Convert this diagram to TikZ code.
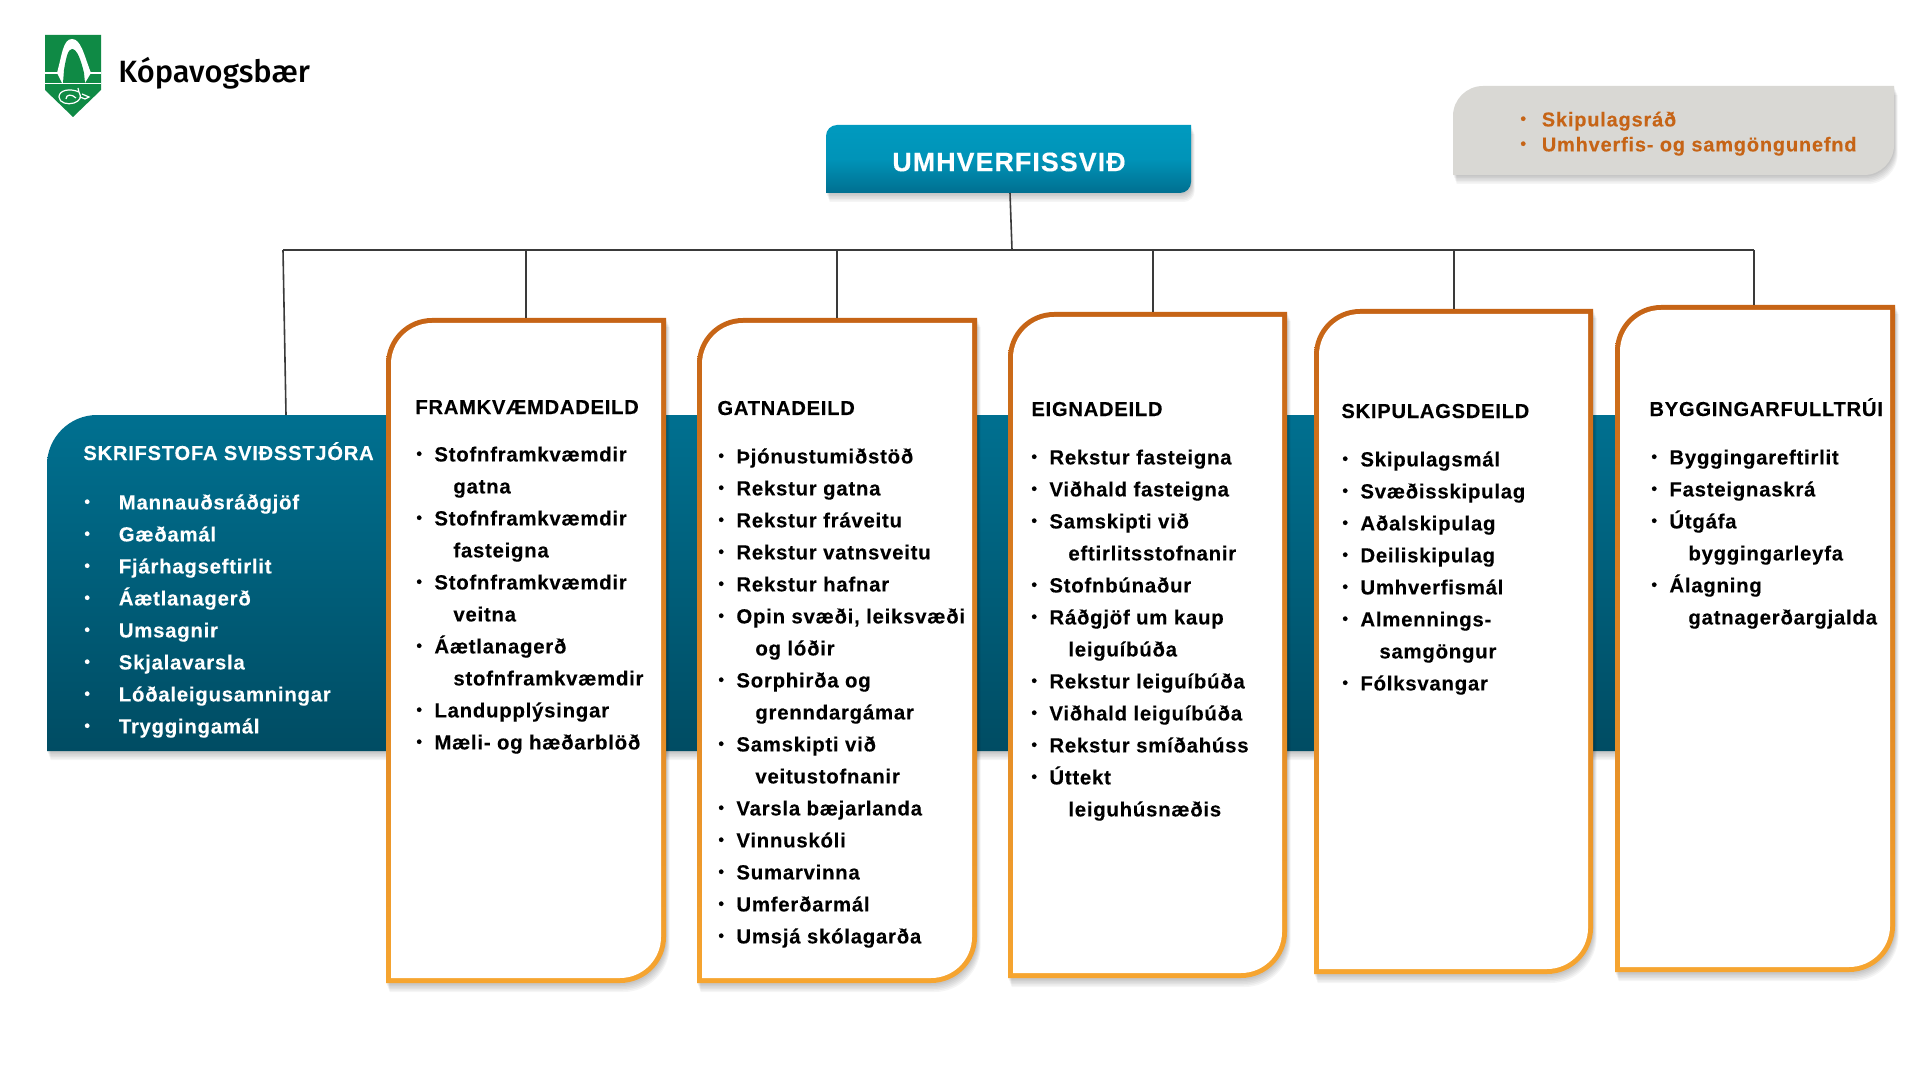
\documentclass[tikz,border=0pt]{standalone}
\usepackage{fontspec}
\usetikzlibrary{fit,calc}
\setmainfont{Liberation Sans}
\newfontfamily\fitem[LetterSpace=3.6,FakeBold=0.15]{Liberation Sans}
\newfontfamily\fgrey[LetterSpace=4,FakeBold=0.15]{Liberation Sans}
\newfontfamily\ftitle[LetterSpace=4,FakeBold=0.15]{Liberation Sans}
\newfontfamily\flogo{Fira Sans Medium}
\definecolor{cardtop}{HTML}{C66416}
\definecolor{cardbot}{HTML}{F6A530}
\definecolor{bandtop}{HTML}{007090}
\definecolor{bandbot}{HTML}{004C63}
\definecolor{titletop}{HTML}{009ABF}
\definecolor{titlebot}{HTML}{006F90}
\definecolor{greybox}{HTML}{D9D8D4}
\definecolor{linecol}{HTML}{3A3A3A}
\definecolor{logogreen}{HTML}{0F8A45}
\newlength\bw
\setlength\bw{9pt}
\newcommand\bulmark{\raisebox{1.2pt}{\fontsize{8}{8}\selectfont\textbullet}}
\newcommand\bl[1]{\rule{0pt}{8pt}\makebox[\bw][l]{\bulmark}#1}
\newcommand\cn[1]{\rule{0pt}{8pt}\hspace*{\bw}\hspace*{9.5pt}#1}
\newcommand\leafpath[5]{(#1,#4) -- (#1,{#2+#5}) .. controls (#1,{#2+.45*#5}) and ({#1+.45*#5},#2) .. ({#1+#5},#2) -- (#3,#2) -- (#3,{#4-#5}) .. controls (#3,{#4-.45*#5}) and ({#3-.45*#5},#4) .. ({#3-#5},#4) -- cycle}
\newcommand\leafshadow[5]{\foreach \i in {1,...,6}{\begin{scope}[shift={(0.6*\i,1.5*\i)}]\fill[black,opacity=.04] \leafpath{#1}{#2}{#3}{#4}{#5};\end{scope}}}
\newcommand\card[5]{%
  \leafshadow{#2}{#3}{#4}{#5}{46}
  \shade[top color=cardtop,bottom color=cardbot] \leafpath{#2}{#3}{#4}{#5}{46};
  \fill[white] \leafpath{\the\numexpr#2+5\relax}{\the\numexpr#3+5\relax}{\the\numexpr#4-5\relax}{\the\numexpr#5-5\relax}{41};
  \coordinate (#1-a) at (#2,#3);
  \coordinate (#1-b) at (#4,#5);
  \node[fit=(#1-a)(#1-b),inner sep=0pt,outer sep=0pt] (#1) {};
}
\tikzset{
  conn/.style={draw=linecol,line width=.8pt},
  head/.style={anchor=base west,inner sep=0pt,font=\fitem\bfseries\fontsize{10.1}{16}\selectfont},
  items/.style={anchor=north west,inner sep=0pt,align=left,font=\fitem\bfseries\fontsize{10.2}{16}\selectfont},
}
\begin{document}
\begin{tikzpicture}[x=.5pt,y=-.5pt]
\useasboundingbox (0,0) rectangle (1920,1080);
\fill[white] (0,0) rectangle (1920,1080);

% logo
\fill[logogreen] (45,35) -- (101,35) -- (101,90) -- (73,117) -- (45,90) -- cycle;
\fill[white] (57,73) .. controls (62,55) and (63,39) .. (72,39) .. controls (81,39) and (84,55) .. (91,73) -- (85,83) -- (62,83) -- cycle;
\fill[logogreen] (63,83) -- (64,70) .. controls (66,58) and (68,49) .. (72,49) .. controls (77,49) and (81,60) .. (84,73) -- (85,83) -- cycle;
\draw[white,line width=.8pt] (45,73) -- (58,73) (89,73) -- (101,73) (45,83.5) -- (101,83.5);
\draw[white,line width=.6pt] (79,92) .. controls (70,88) and (59,90) .. (59,97) .. controls (59,103) and (68,105) .. (74,103) .. controls (80,101) and (82,97) .. (79,92) -- (78,88) (82,94) -- (89,97) -- (85,99) -- (80,97) (66,99) .. controls (66,94) and (72,94) .. (76,98);
\node[anchor=base west,inner sep=0pt,font=\flogo\fontsize{15.4}{17}\selectfont] (logotext) at (118,83) {Kópavogsbær};

% band
\leafshadow{47}{415}{1700}{751}{50}
\shade[top color=bandtop,bottom color=bandbot] \leafpath{47}{415}{1700}{751}{50};
\coordinate (banda) at (47,415);
\coordinate (bandb) at (1700,751);
\node[fit=(banda)(bandb),inner sep=0pt,outer sep=0pt] (band) {};

% title box
\leafshadow{826}{125}{1191}{193}{11}
\shade[top color=titletop,bottom color=titlebot,middle color=titletop!85!titlebot] \leafpath{826}{125}{1191}{193}{11};
\node[inner sep=0pt,text=white,font=\ftitle\bfseries\fontsize{13.4}{16}\selectfont] (umh) at (1009,162) {UMHVERFISSVIÐ};

% grey box
\leafshadow{1453}{86}{1894}{175}{30}
\fill[greybox] \leafpath{1453}{86}{1894}{175}{30};
\setlength\bw{10.7pt}
\node[anchor=north west,inner sep=0pt,align=left,text=cardtop,font=\fgrey\bfseries\fontsize{10}{12.5}\selectfont] (nefnd) at (1520,110) {\bl{Skipulagsráð}\\\bl{Umhverfis- og samgöngunefnd}};
\setlength\bw{9pt}

% connectors
\coordinate (busL) at (283,250);
\coordinate (busR) at (1754,250);
\coordinate (busM) at (1012,250);
\coordinate (b1) at (526,250);
\coordinate (b2) at (837,250);
\coordinate (b3) at (1153,250);
\coordinate (b4) at (1454,250);
\coordinate (umhs) at (1010,193);
\coordinate (bandtop) at (286,415);

\draw[conn] (busL) -- (busR);
\draw[conn] (umhs) -- (busM);
\draw[conn] (busL) -- (bandtop);

% cards
\card{c1}{386}{318}{666}{983}
\card{c2}{697}{318}{977}{983}
\card{c3}{1008}{312}{1287}{978}
\card{c4}{1314}{309}{1593}{974}
\card{c5}{1615}{305}{1895}{972}

\draw[conn] (b1) -- (b1 |- c1.north);
\draw[conn] (b2) -- (b2 |- c2.north);
\draw[conn] (b3) -- (b3 |- c3.north);
\draw[conn] (b4) -- (b4 |- c4.north);
\draw[conn] (busR) -- (busR |- c5.north);

% band text
\node[head,text=white] (h0) at (83,460) {SKRIFSTOFA SVIÐSSTJÓRA};
\setlength\bw{17.2pt}
\node[items,text=white] (l0) at (84,493) {\bl{Mannauðsráðgjöf}\\\bl{Gæðamál}\\\bl{Fjárhagseftirlit}\\\bl{Áætlanagerð}\\\bl{Umsagnir}\\\bl{Skjalavarsla}\\\bl{Lóðaleigusamningar}\\\bl{Tryggingamál}};
\setlength\bw{9pt}

% card texts
\node[head] (h1) at (415,414) {FRAMKVÆMDADEILD};
\node[items] (l1) at (416,445) {\bl{Stofnframkvæmdir}\\\cn{gatna}\\\bl{Stofnframkvæmdir}\\\cn{fasteigna}\\\bl{Stofnframkvæmdir}\\\cn{veitna}\\\bl{Áætlanagerð}\\\cn{stofnframkvæmdir}\\\bl{Landupplýsingar}\\\bl{Mæli- og hæðarblöð}};

\node[head] (h2) at (717,415) {GATNADEILD};
\node[items] (l2) at (718,447) {\bl{Þjónustumiðstöð}\\\bl{Rekstur gatna}\\\bl{Rekstur fráveitu}\\\bl{Rekstur vatnsveitu}\\\bl{Rekstur hafnar}\\\bl{Opin svæði, leiksvæði}\\\cn{og lóðir}\\\bl{Sorphirða og}\\\cn{grenndargámar}\\\bl{Samskipti við}\\\cn{veitustofnanir}\\\bl{Varsla bæjarlanda}\\\bl{Vinnuskóli}\\\bl{Sumarvinna}\\\bl{Umferðarmál}\\\bl{Umsjá skólagarða}};

\node[head] (h3) at (1031,416) {EIGNADEILD};
\node[items] (l3) at (1031,448) {\bl{Rekstur fasteigna}\\\bl{Viðhald fasteigna}\\\bl{Samskipti við}\\\cn{eftirlitsstofnanir}\\\bl{Stofnbúnaður}\\\bl{Ráðgjöf um kaup}\\\cn{leiguíbúða}\\\bl{Rekstur leiguíbúða}\\\bl{Viðhald leiguíbúða}\\\bl{Rekstur smíðahúss}\\\bl{Úttekt}\\\cn{leiguhúsnæðis}};

\node[head] (h4) at (1341,418) {SKIPULAGSDEILD};
\node[items] (l4) at (1342,450) {\bl{Skipulagsmál}\\\bl{Svæðisskipulag}\\\bl{Aðalskipulag}\\\bl{Deiliskipulag}\\\bl{Umhverfismál}\\\bl{Almennings-}\\\cn{samgöngur}\\\bl{Fólksvangar}};

\node[head] (h5) at (1649,416) {BYGGINGARFULLTRÚI};
\node[items] (l5) at (1651,448) {\bl{Byggingareftirlit}\\\bl{Fasteignaskrá}\\\bl{Útgáfa}\\\cn{byggingarleyfa}\\\bl{Álagning}\\\cn{gatnagerðargjalda}};
\end{tikzpicture}
\end{document}
